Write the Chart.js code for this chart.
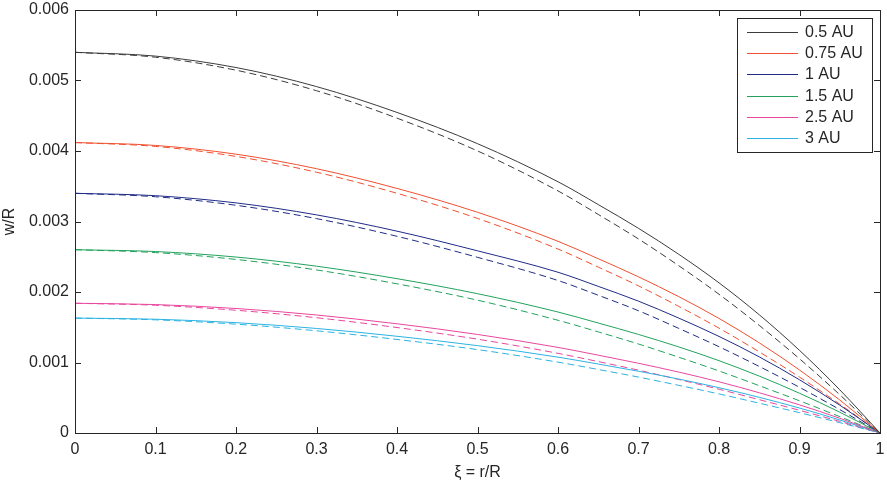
<!DOCTYPE html>
<html>
<head>
<meta charset="utf-8">
<title>w/R vs r/R</title>
<script src="https://cdn.jsdelivr.net/npm/chart.js@4.4.0/dist/chart.umd.min.js"></script>
<style>
  body { margin: 0; background: #fff; }
  canvas { display: block; }
</style>
</head>
<body>
<canvas id="deflectionChart" width="887" height="486"></canvas>
<script>
// radial position xi = r/R
const xi = [0, 0.1, 0.2, 0.3, 0.4, 0.5, 0.6, 0.65, 0.7, 0.75, 0.8, 0.85, 0.9, 0.95, 1];

const seriesLabels = ['0.5 AU', '0.75 AU', '1 AU', '1.5 AU', '2.5 AU', '3 AU'];

// solid curves (w/R)
const solid05 = [0.0054, 0.005346, 0.005184, 0.004914, 0.004547, 0.004104, 0.003564, 0.00324, 0.002903, 0.002535, 0.00213, 0.001677, 0.001172, 0.000613, 0];
const solid075 = [0.00412, 0.004079, 0.003955, 0.003749, 0.003469, 0.003131, 0.002719, 0.002472, 0.002215, 0.001934, 0.001625, 0.001279, 0.000894, 0.000468, 0];
const solid1 = [0.0034, 0.003366, 0.003264, 0.003094, 0.002863, 0.002584, 0.00228, 0.00208, 0.00187, 0.00163, 0.00137, 0.00108, 0.000755, 0.000395, 0];
const solid15 = [0.0026, 0.002574, 0.002496, 0.002366, 0.002189, 0.001976, 0.001716, 0.00156, 0.001398, 0.001221, 0.001026, 0.000807, 0.000564, 0.000295, 0];
const solid25 = [0.00184, 0.001822, 0.001766, 0.001674, 0.001549, 0.001398, 0.001214, 0.001104, 0.000989, 0.000864, 0.000726, 0.000571, 0.000399, 0.000209, 0];
const solid3 = [0.00163, 0.001614, 0.001565, 0.001483, 0.001372, 0.001239, 0.001076, 0.000978, 0.000876, 0.000765, 0.000643, 0.000506, 0.000354, 0.000185, 0];

// dashed curves (w/R)
const dashed05 = [0.0054, 0.00533, 0.005146, 0.004855, 0.004466, 0.004001, 0.003434, 0.0031, 0.002752, 0.002373, 0.001968, 0.001526, 0.001053, 0.000543, 0];
const dashed075 = [0.00412, 0.004065, 0.003923, 0.003699, 0.0034, 0.003044, 0.002609, 0.002353, 0.002087, 0.001796, 0.001487, 0.001151, 0.000793, 0.000409, 0];
const dashed1 = [0.0034, 0.003351, 0.00323, 0.003041, 0.00279, 0.002492, 0.002163, 0.001954, 0.001734, 0.001484, 0.001224, 0.000944, 0.000648, 0.000332, 0];
const dashed15 = [0.0026, 0.002559, 0.002462, 0.002313, 0.002116, 0.001884, 0.001599, 0.001434, 0.001262, 0.001075, 0.00088, 0.000671, 0.000457, 0.000232, 0];
const dashed25 = [0.00184, 0.001812, 0.001741, 0.001635, 0.001496, 0.001331, 0.00113, 0.001013, 0.000891, 0.000759, 0.000621, 0.000473, 0.000322, 0.000164, 0];
const dashed3 = [0.00163, 0.001605, 0.001544, 0.00145, 0.001327, 0.001183, 0.001005, 0.000901, 0.000793, 0.000676, 0.000554, 0.000423, 0.000288, 0.000147, 0];

const xTickValues = [0, 0.1, 0.2, 0.3, 0.4, 0.5, 0.6, 0.7, 0.8, 0.9, 1];
const xTickLabels = ['0', '0.1', '0.2', '0.3', '0.4', '0.5', '0.6', '0.7', '0.8', '0.9', '1'];
const yTickValues = [0, 0.001, 0.002, 0.003, 0.004, 0.005, 0.006];
const yTickLabels = ['0', '0.001', '0.002', '0.003', '0.004', '0.005', '0.006'];

const solidSeries = [solid05, solid075, solid1, solid15, solid25, solid3];
const dashedSeries = [dashed05, dashed075, dashed1, dashed15, dashed25, dashed3];

const lineColors = ['#3c3c3c', '#f0502f', '#1f2c86', '#22a25c', '#e8479e', '#2cb3e2'];
const textColor = '#262626';
const fontFamily = '"Liberation Sans", Arial, Helvetica, sans-serif';

function toPoints(values) {
    return values.map((v, i) => ({ x: xi[i], y: v }));
}

const datasets = [];
solidSeries.forEach((values, i) => {
    datasets.push({
        label: seriesLabels[i],
        data: toPoints(values),
        borderColor: lineColors[i],
        borderWidth: 1,
        pointRadius: 0,
        cubicInterpolationMode: 'monotone',
        inLegend: true
    });
});
dashedSeries.forEach((values, i) => {
    datasets.push({
        label: seriesLabels[i] + ' (dashed)',
        data: toPoints(values),
        borderColor: lineColors[i],
        borderWidth: 1,
        borderDash: [7, 4],
        pointRadius: 0,
        cubicInterpolationMode: 'monotone',
        inLegend: false
    });
});

// frame + inward ticks on all four sides, MATLAB style
const boxPlugin = {
    id: 'boxPlugin',
    afterDraw(chart) {
        const ctx = chart.ctx;
        const area = chart.chartArea;
        const xs = chart.scales.x;
        const ys = chart.scales.y;
        ctx.save();
        ctx.strokeStyle = textColor;
        ctx.lineWidth = 1;
        ctx.beginPath();
        xTickValues.forEach(v => {
            const px = Math.round(xs.getPixelForValue(v)) + 0.5;
            ctx.moveTo(px, area.bottom);
            ctx.lineTo(px, area.bottom - 6);
            ctx.moveTo(px, area.top);
            ctx.lineTo(px, area.top + 6);
        });
        yTickValues.forEach(v => {
            const py = Math.round(ys.getPixelForValue(v)) + 0.5;
            ctx.moveTo(area.left, py);
            ctx.lineTo(area.left + 6, py);
            ctx.moveTo(area.right, py);
            ctx.lineTo(area.right - 6, py);
        });
        ctx.stroke();
        ctx.strokeRect(Math.round(area.left) + 0.5, Math.round(area.top) + 0.5,
            Math.round(area.right - area.left), Math.round(area.bottom - area.top));
        ctx.restore();
    }
};

// legend box inside the plot, top right
const legendPlugin = {
    id: 'legendPlugin',
    afterDraw(chart) {
        const ctx = chart.ctx;
        const area = chart.chartArea;
        const items = chart.data.datasets.filter(d => d.inLegend);
        const boxW = 135;
        const rowH = 21.2;
        const boxH = items.length * rowH + 7;
        const left = Math.round(area.right - boxW - 8);
        const top = Math.round(area.top + 8);
        ctx.save();
        ctx.fillStyle = '#fff';
        ctx.fillRect(left, top, boxW, boxH);
        ctx.strokeStyle = textColor;
        ctx.lineWidth = 1;
        ctx.strokeRect(left + 0.5, top + 0.5, boxW, Math.round(boxH));
        ctx.font = '16px ' + fontFamily;
        ctx.textBaseline = 'middle';
        ctx.textAlign = 'left';
        items.forEach((d, i) => {
            const y = Math.round(top + 14 + i * rowH) + 0.5;
            ctx.strokeStyle = d.borderColor;
            ctx.beginPath();
            ctx.moveTo(left + 10, y);
            ctx.lineTo(left + 61, y);
            ctx.stroke();
            ctx.fillStyle = textColor;
            ctx.fillText(d.label, left + 68, y);
        });
        ctx.restore();
    }
};

const ctx = document.getElementById('deflectionChart').getContext('2d');
new Chart(ctx, {
    type: 'line',
    data: { datasets: datasets },
    options: {
        responsive: false,
        animation: false,
        layout: { padding: { top: 10, right: 7, left: 0, bottom: 0 } },
        plugins: {
            legend: { display: false },
            tooltip: { enabled: false }
        },
        scales: {
            x: {
                type: 'linear',
                min: 0,
                max: 1,
                afterBuildTicks: scale => { scale.ticks = xTickValues.map(v => ({ value: v })); },
                afterFit: scale => {
                    scale.height = 53;
                    scale.paddingLeft = 0;
                    scale.paddingRight = 0;
                },
                grid: { drawOnChartArea: false, drawTicks: false },
                border: { display: false },
                ticks: {
                    color: textColor,
                    font: { family: fontFamily, size: 16 },
                    padding: 7,
                    maxRotation: 0,
                    callback: (v, i) => xTickLabels[i]
                },
                title: {
                    display: true,
                    text: 'ξ = r/R',
                    color: textColor,
                    font: { family: fontFamily, size: 16 },
                    padding: { top: 0, bottom: 4 }
                }
            },
            y: {
                type: 'linear',
                min: 0,
                max: 0.006,
                afterBuildTicks: scale => { scale.ticks = yTickValues.map(v => ({ value: v })); },
                afterFit: scale => {
                    scale.width = 75;
                    scale.paddingTop = 0;
                    scale.paddingBottom = 0;
                },
                grid: { drawOnChartArea: false, drawTicks: false },
                border: { display: false },
                ticks: {
                    color: textColor,
                    font: { family: fontFamily, size: 16 },
                    padding: 6,
                    callback: (v, i) => yTickLabels[i]
                },
                title: {
                    display: true,
                    text: 'w/R',
                    color: textColor,
                    font: { family: fontFamily, size: 16 },
                    padding: { top: 0, bottom: 0 }
                }
            }
        }
    },
    plugins: [boxPlugin, legendPlugin]
});
</script>
</body>
</html>
